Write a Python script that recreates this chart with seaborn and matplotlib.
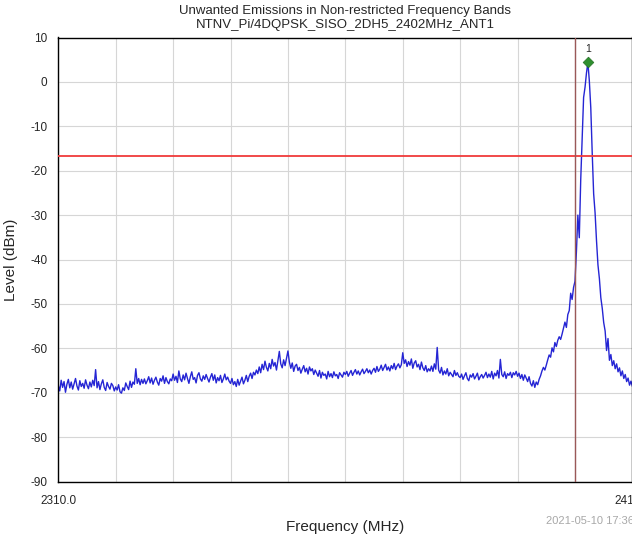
import numpy as np
import matplotlib
matplotlib.use("Agg")
from matplotlib import pyplot as plt
import seaborn as sns

# spectrum trace, 0.25 MHz step from 2310 to 2410 MHz
f_start = 2310.0
f_stop = 2410.0
f_step = 0.25
level_dbm = [
    -68.4, -69.6, -67.2, -68.8, -67.5, -69.9, -68.1, -67.0, -68.9, -67.6, -69.2, -68.0, -66.8, -68.5, -69.4, -67.3, -68.6, -67.9, -69.0, -67.1,
    -68.3, -69.1, -67.6, -68.7, -67.2, -68.4, -64.8, -68.9, -67.5, -69.3, -68.0, -67.1, -68.8, -69.5, -67.7, -68.6, -69.2, -67.9, -68.4, -69.6,
    -68.7, -69.4, -68.2, -69.8, -70.1, -68.9, -69.5, -67.8, -68.6, -69.3, -67.4, -68.8, -67.6, -68.1, -64.6, -67.9, -66.8, -68.2, -67.0, -67.9,
    -66.9, -68.0, -67.3, -66.4, -67.8, -66.7, -68.1, -67.2, -66.5, -67.6, -68.3, -66.8, -67.4, -66.2, -67.9, -66.6, -67.5, -68.0, -66.9, -67.3,
    -65.8, -67.2, -66.3, -67.7, -65.1, -66.9, -67.5, -66.0, -67.1, -65.6, -66.8, -67.9, -66.4, -65.3, -67.0, -66.6, -67.8, -66.1, -65.5, -66.9,
    -67.4, -66.2, -67.0, -65.9, -66.8, -67.6, -66.5, -65.7, -67.2, -66.0, -67.8, -66.6, -67.3, -66.1, -67.7, -66.9, -65.8, -67.1, -66.5, -67.4,
    -67.9, -66.8, -68.2, -67.5, -68.6, -67.0, -68.3, -67.4, -66.5, -68.0, -67.2, -66.1, -67.5, -66.3, -65.6, -66.8, -65.4, -66.0, -64.9, -65.7,
    -64.2, -65.5, -63.6, -64.8, -62.9, -64.3, -65.1, -63.4, -64.6, -62.5, -64.0, -63.2, -64.9, -62.8, -60.7, -63.5, -64.4, -62.6, -63.9, -62.2,
    -60.6, -63.1, -64.5, -63.3, -65.2, -64.0, -63.6, -65.0, -64.3, -65.6, -64.7, -63.9, -65.3, -64.5, -65.8, -64.2, -65.1, -64.6, -65.9, -64.9,
    -65.6, -66.3, -65.0, -66.7, -65.4, -66.1, -65.8, -66.9, -65.2, -66.4, -65.7, -66.6, -65.3, -66.2, -65.9, -66.8, -65.5, -66.0, -66.5, -65.4,
    -65.9, -65.2, -66.3, -65.6, -65.0, -66.1, -65.4, -64.8, -65.8, -65.1, -66.0, -65.3, -64.7, -65.7, -65.2, -64.6, -65.5, -64.9, -65.8, -65.0,
    -64.5, -65.4, -64.1, -65.2, -64.7, -63.8, -65.0, -64.3, -63.6, -64.9, -64.2, -65.1, -63.9, -64.6, -63.4, -64.8, -64.0, -63.5, -64.4, -63.7,
    -61.0, -63.4, -62.6, -64.1, -63.0, -63.8, -62.4, -64.5, -63.3, -62.8, -64.2, -63.6, -64.8, -63.1, -64.4, -65.0, -63.9, -65.3, -64.6, -65.1,
    -64.0, -65.2, -63.5, -64.7, -59.8, -64.9, -65.6, -64.3, -66.0, -65.1, -65.8, -64.6, -66.2, -65.4, -65.9, -66.4, -65.0, -66.1, -65.5, -66.3,
    -66.6, -65.8, -67.0, -66.2, -65.5, -66.8, -67.3, -66.0, -66.5, -65.7, -66.9, -66.3, -65.6, -67.1, -66.4, -65.9, -66.7, -66.1, -65.4, -66.6,
    -65.8, -66.5, -65.2, -66.9, -65.6, -66.2, -65.0, -66.7, -62.5, -65.9, -66.4, -65.3, -66.8, -65.7, -66.1, -65.4, -66.6, -65.5, -66.0, -65.2,
    -66.3, -65.6, -66.8, -65.9, -67.2, -66.0, -66.7, -67.5, -66.4, -67.9, -68.5, -67.3, -68.8, -67.6, -68.2, -67.0, -66.2, -65.1, -64.3, -64.9,
    -63.8, -62.6, -61.5, -62.0, -59.9, -60.8, -58.7, -59.6, -58.2, -57.4, -58.0, -56.8, -55.5, -54.1, -55.3, -52.4, -51.5, -47.6, -49.0, -46.3,
    -44.9, -38.2, -30.0, -35.1, -22.0, -12.5, -3.5, -1.2, 2.0, 4.4, 0.2, -5.8, -16.0, -25.2, -29.5, -35.8, -41.2, -44.3, -48.6, -51.0,
    -54.2, -56.1, -60.5, -57.8, -62.7, -61.4, -63.9, -62.8, -64.6, -63.5, -65.3, -64.4, -66.2, -65.1, -66.8, -65.9, -67.5, -66.7, -68.3, -67.4,
    -68.6,
]
freq_mhz = np.arange(len(level_dbm)) * f_step + f_start

limit_dbm = -16.6
band_edge_mhz = 2400.0
marker_label = "1"
y_ticks = [10, 0, -10, -20, -30, -40, -50, -60, -70, -80, -90]
x_ticks = np.arange(2310, 2411, 10)

title1 = "Unwanted Emissions in Non-restricted Frequency Bands"
title2 = "NTNV_Pi/4DQPSK_SISO_2DH5_2402MHz_ANT1"
stamp = "2021-05-10 17:36"

sns.set_style("white")
plt.rcParams['font.family'] = ['Liberation Sans', 'DejaVu Sans']
plt.rcParams['axes.unicode_minus'] = False

fig = plt.figure(figsize=(6.32, 5.36), dpi=100)
ax = fig.add_axes([58.3 / 632, 54.5 / 536, 574.1 / 632, 444 / 536])

sns.lineplot(x=freq_mhz, y=level_dbm, ax=ax, color="#2525d4", lw=1.0, estimator=None)
ax.axhline(limit_dbm, color="#f03a3a", lw=1.3, zorder=3)
ax.axvline(band_edge_mhz, color="#9a5858", lw=1.0, zorder=3)

pk = int(np.argmax(level_dbm))
sns.scatterplot(x=[freq_mhz[pk]], y=[level_dbm[pk]], ax=ax, marker="D", s=30,
                color="#2f8f2f", edgecolor="#1d6a1d", zorder=5)
ax.annotate(marker_label, (freq_mhz[pk], level_dbm[pk]), xytext=(0, 6),
            textcoords="offset points", ha="center", va="bottom", fontsize=7.5)

ax.set_xlim(f_start, f_stop)
ax.set_ylim(-90, 10)
ax.set_yticks(y_ticks)
ax.set_yticklabels([str(v) for v in y_ticks], fontsize=8.5)
ax.set_xticks(x_ticks)
xl = ["" for _ in x_ticks]
xl[0] = "2310.0"
xl[-1] = "2410.0"
ax.set_xticklabels(xl, fontsize=8.5)
ax.tick_params(axis="both", direction="out", length=4, width=1, color="black")
ax.tick_params(axis="x", pad=6)
ax.tick_params(axis="y", pad=4)
ax.grid(True, color="#d6d6d6", lw=0.8)
for s in ax.spines.values():
    s.set_color("black")
    s.set_linewidth(1.0)

ax.set_xlabel("Frequency (MHz)", fontsize=11, labelpad=9)
ax.set_ylabel("Level (dBm)", fontsize=11, labelpad=9)

fig.text(345 / 632, 1 - 11 / 536, title1, ha="center", va="center", fontsize=9.5)
fig.text(345 / 632, 1 - 25 / 536, title2, ha="center", va="center", fontsize=9.5)
fig.text(546 / 632, 1 - 521 / 536, stamp, ha="left", va="center", fontsize=8, color="#a8a8a8")

fig.savefig("out.png", dpi=100)
